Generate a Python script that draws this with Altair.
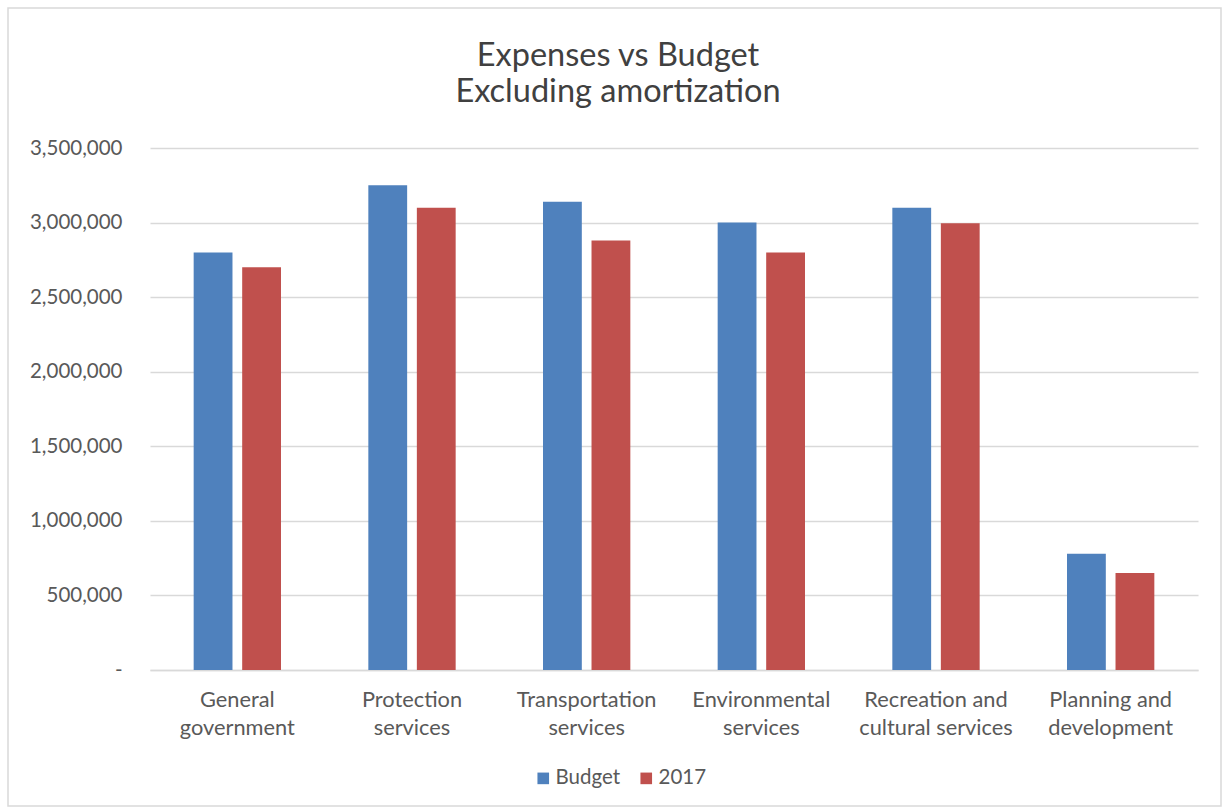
import altair as alt
import pandas as pd

categories = [
    "General government",
    "Protection services",
    "Transportation services",
    "Environmental services",
    "Recreation and cultural services",
    "Planning and development",
]
label_lines = [
    ["General", "government"],
    ["Protection", "services"],
    ["Transportation", "services"],
    ["Environmental", "services"],
    ["Recreation and", "cultural services"],
    ["Planning and", "development"],
]
series = ["Budget", "2017"]
budget = [2800000, 3250000, 3140000, 3000000, 3100000, 780000]
actual_2017 = [2700000, 3100000, 2880000, 2800000, 2995000, 650000]
colors = ["#4F81BD", "#C0504D"]
y_ticks = [0, 500000, 1000000, 1500000, 2000000, 2500000, 3000000, 3500000]

rows = []
for c, b, a in zip(categories, budget, actual_2017):
    rows.append({"Category": c, "Series": "Budget", "Value": b})
    rows.append({"Category": c, "Series": "2017", "Value": a})
df = pd.DataFrame(rows)

label_expr = ""
for c, lines in zip(categories, label_lines):
    label_expr += f"datum.label == '{c}' ? ['{lines[0]}', '{lines[1]}'] : "
label_expr += "datum.label"

FONT = "Lato"
GRAY = "#595959"

bars = alt.Chart(df).mark_bar().encode(
    x=alt.X("Category:N", sort=categories, title=None,
            scale=alt.Scale(paddingInner=0.5, paddingOuter=0.25),
            axis=alt.Axis(labelExpr=label_expr, labelAngle=0, labelFontSize=21.8,
                          labelColor=GRAY, labelFont=FONT, labelPadding=19,
                          labelLineHeight=28, ticks=False, grid=False,
                          domainColor="#d9d9d9", domainWidth=1.5, labelBaseline="top")),
    xOffset=alt.XOffset("Series:N", sort=series,
                        scale=alt.Scale(paddingInner=0.2, paddingOuter=0)),
    y=alt.Y("Value:Q", title=None,
            scale=alt.Scale(domain=[0, 3500000], nice=False),
            axis=alt.Axis(values=y_ticks,
                          labelExpr="datum.value == 0 ? '-' : format(datum.value, ',')",
                          labelFontSize=20.5, labelColor=GRAY, labelFont=FONT,
                          labelPadding=28, ticks=False, domain=False,
                          gridColor="#d9d9d9", gridWidth=1.5)),
    color=alt.Color("Series:N", sort=series,
                    scale=alt.Scale(domain=series, range=colors),
                    legend=alt.Legend(title=None, orient="none", direction="horizontal",
                                      legendX=383, legendY=620, symbolType="square",
                                      symbolSize=135, symbolStrokeWidth=0,
                                      labelFontSize=20.5, labelColor=GRAY, labelFont=FONT,
                                      columnPadding=15, labelOffset=2)),
)

border = alt.Chart(pd.DataFrame({"k": [0]})).mark_rect(
    fill="transparent", stroke="#d9d9d9", strokeWidth=1.5, clip=False
).encode(
    x=alt.value(-142), x2=alt.value(1071),
    y=alt.value(-140), y2=alt.value(658),
)

chart = alt.layer(border, bars).properties(
    width=1048,
    height=522,
    background="white",
    title=alt.TitleParams(
        text=["Expenses vs Budget", "Excluding amortization"],
        fontSize=32.5, font=FONT, fontWeight="normal", color="#404040",
        anchor="middle", lineHeight=36, dx=-56, offset=-101,
    ),
    autosize=alt.AutoSizeParams(type="none"),
    padding={"left": 150, "top": 148, "right": 25, "bottom": 140},
).configure_view(stroke="transparent", strokeWidth=0)

chart.save("out.html", embed_options={"renderer": "svg", "actions": False})
